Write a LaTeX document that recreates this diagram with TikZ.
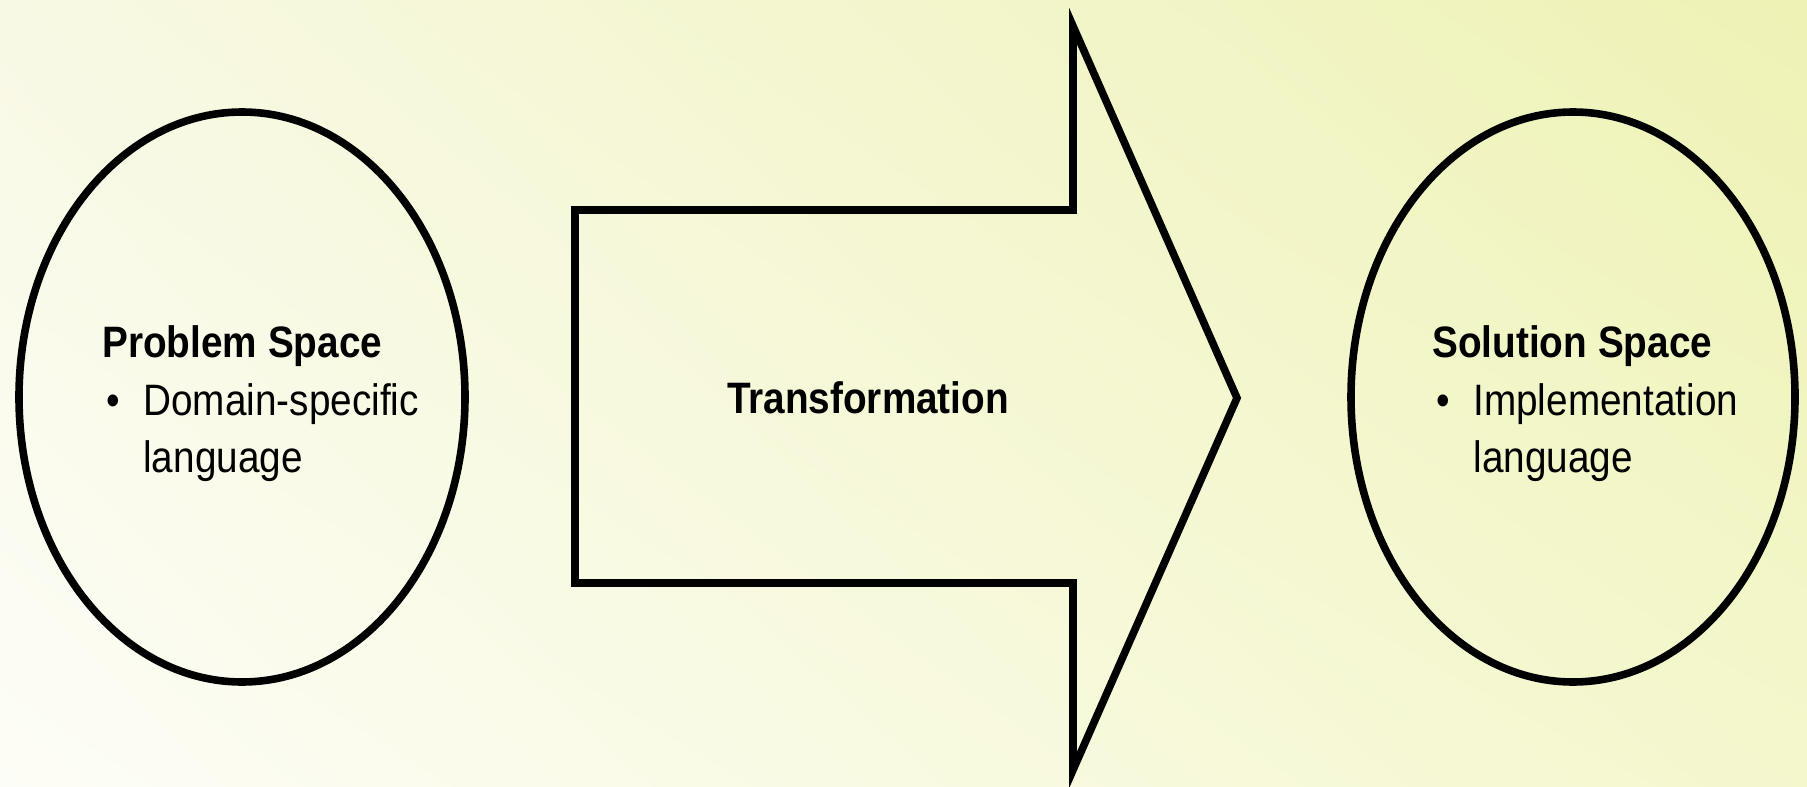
\documentclass[tikz,border=0pt]{standalone}
\usepackage{fontspec}
\setmainfont{Liberation Sans}[FakeStretch=0.88]
\usetikzlibrary{shapes.geometric,shadings}
\definecolor{bgTL}{HTML}{F8F9E4}
\definecolor{bgTR}{HTML}{EEF2B4}
\definecolor{bgBL}{HTML}{FDFDF7}
\definecolor{bgBR}{HTML}{F4F7CC}
\tikzset{
  outline/.style={draw=black, line width=3.8pt},
  spaceoval/.style={outline, ellipse, inner sep=0pt},
  txt/.style={anchor=base west, inner sep=0pt, font=\fontsize{22}{28.5}\selectfont},
  bold/.style={txt, font=\fontsize{22}{28.5}\selectfont\bfseries},
}
\begin{document}
\begin{tikzpicture}[x=0.5pt,y=-0.5pt]
\useasboundingbox (0,0) rectangle (1807,786);
\shade[upper left=bgTL, upper right=bgTR, lower left=bgBL, lower right=bgBR] (0,0) rectangle (1807,786);
% ellipses
\node[spaceoval, minimum width=446*0.5pt, minimum height=570*0.5pt] (prob) at (242,397) {};
\node[spaceoval, minimum width=444*0.5pt, minimum height=570*0.5pt] (sol) at (1573,397) {};
% arrow
\draw[outline, line join=miter] (575,210) -- (1073,210) -- (1073,26) -- (1237,398) -- (1073,770) -- (1073,583) -- (575,583) -- cycle;
% texts
\node[bold] (pt) at (102,357) {Problem Space};
\node[txt] (pb) at (106,415) {•};
\node[txt] (p1) at (143,415) {Domain-specific};
\node[txt] (p2) at (143,472) {language};
\node[bold, anchor=base] (tr) at (868,413) {Transformation};
\node[bold] (st) at (1432,357) {Solution Space};
\node[txt] (sb) at (1436,415) {•};
\node[txt] (s1) at (1473,415) {Implementation};
\node[txt] (s2) at (1473,472) {language};
\end{tikzpicture}
\end{document}
